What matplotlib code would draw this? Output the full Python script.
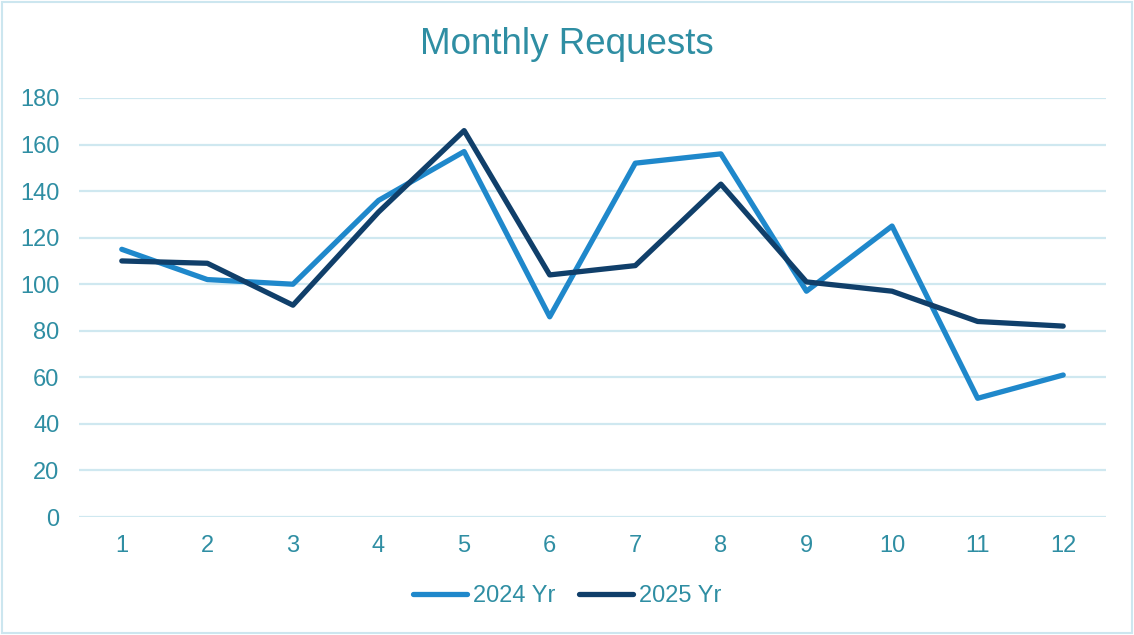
import matplotlib
matplotlib.use("Agg")
import matplotlib.pyplot as plt
from matplotlib.patches import Rectangle

months = [1, 2, 3, 4, 5, 6, 7, 8, 9, 10, 11, 12]
tick_labels = [str(m) for m in months]
req_2024 = [115, 102, 100, 136, 157, 86, 152, 156, 97, 125, 51, 61]
req_2025 = [110, 109, 91, 131, 166, 104, 108, 143, 101, 97, 84, 82]
y_ticks = [0, 20, 40, 60, 80, 100, 120, 140, 160, 180]

TEXT = "#2F8EA3"
C24 = "#1F88CB"
C25 = "#103F6A"
GRID = "#CFE8F0"

plt.rcParams['font.family'] = ['Liberation Sans', 'DejaVu Sans']

fig = plt.figure(figsize=(11.34, 6.35), dpi=100)
ax = fig.add_axes([79/1134, 118/635, 1027/1134, 419/635])

ax.plot(months, req_2024, color=C24, lw=3.8, solid_capstyle='round', solid_joinstyle='round', label="2024 Yr", zorder=3)
ax.plot(months, req_2025, color=C25, lw=3.8, solid_capstyle='round', solid_joinstyle='round', label="2025 Yr", zorder=4)

ax.set_xlim(0.5, 12.5)
ax.set_ylim(0, 180)
ax.set_yticks(y_ticks)
ax.set_xticks(months)
ax.set_xticklabels(tick_labels)
ax.grid(axis='y', color=GRID, lw=1.6)
ax.set_axisbelow(True)
for s in ax.spines.values():
    s.set_visible(False)
ax.tick_params(axis='both', length=0, labelsize=17, labelcolor=TEXT)
ax.tick_params(axis='y', pad=14)
ax.tick_params(axis='x', pad=13)

fig.text(0.5, 1 - 45/635, "Monthly Requests", ha='center', va='center', fontsize=26.5, color=TEXT)

leg = fig.legend(loc='center', bbox_to_anchor=(0.5, 1 - 596/635), ncol=2, frameon=False,
                 fontsize=17, labelcolor=TEXT, handlelength=2.3, handletextpad=0.25, columnspacing=1.0)

fig.patches.append(Rectangle((2/1134, 2/635), 1 - 4/1134, 1 - 4/635, transform=fig.transFigure,
                             fill=False, edgecolor="#CCE6EF", lw=1.5))

fig.savefig("out.png", dpi=100, facecolor='white')
